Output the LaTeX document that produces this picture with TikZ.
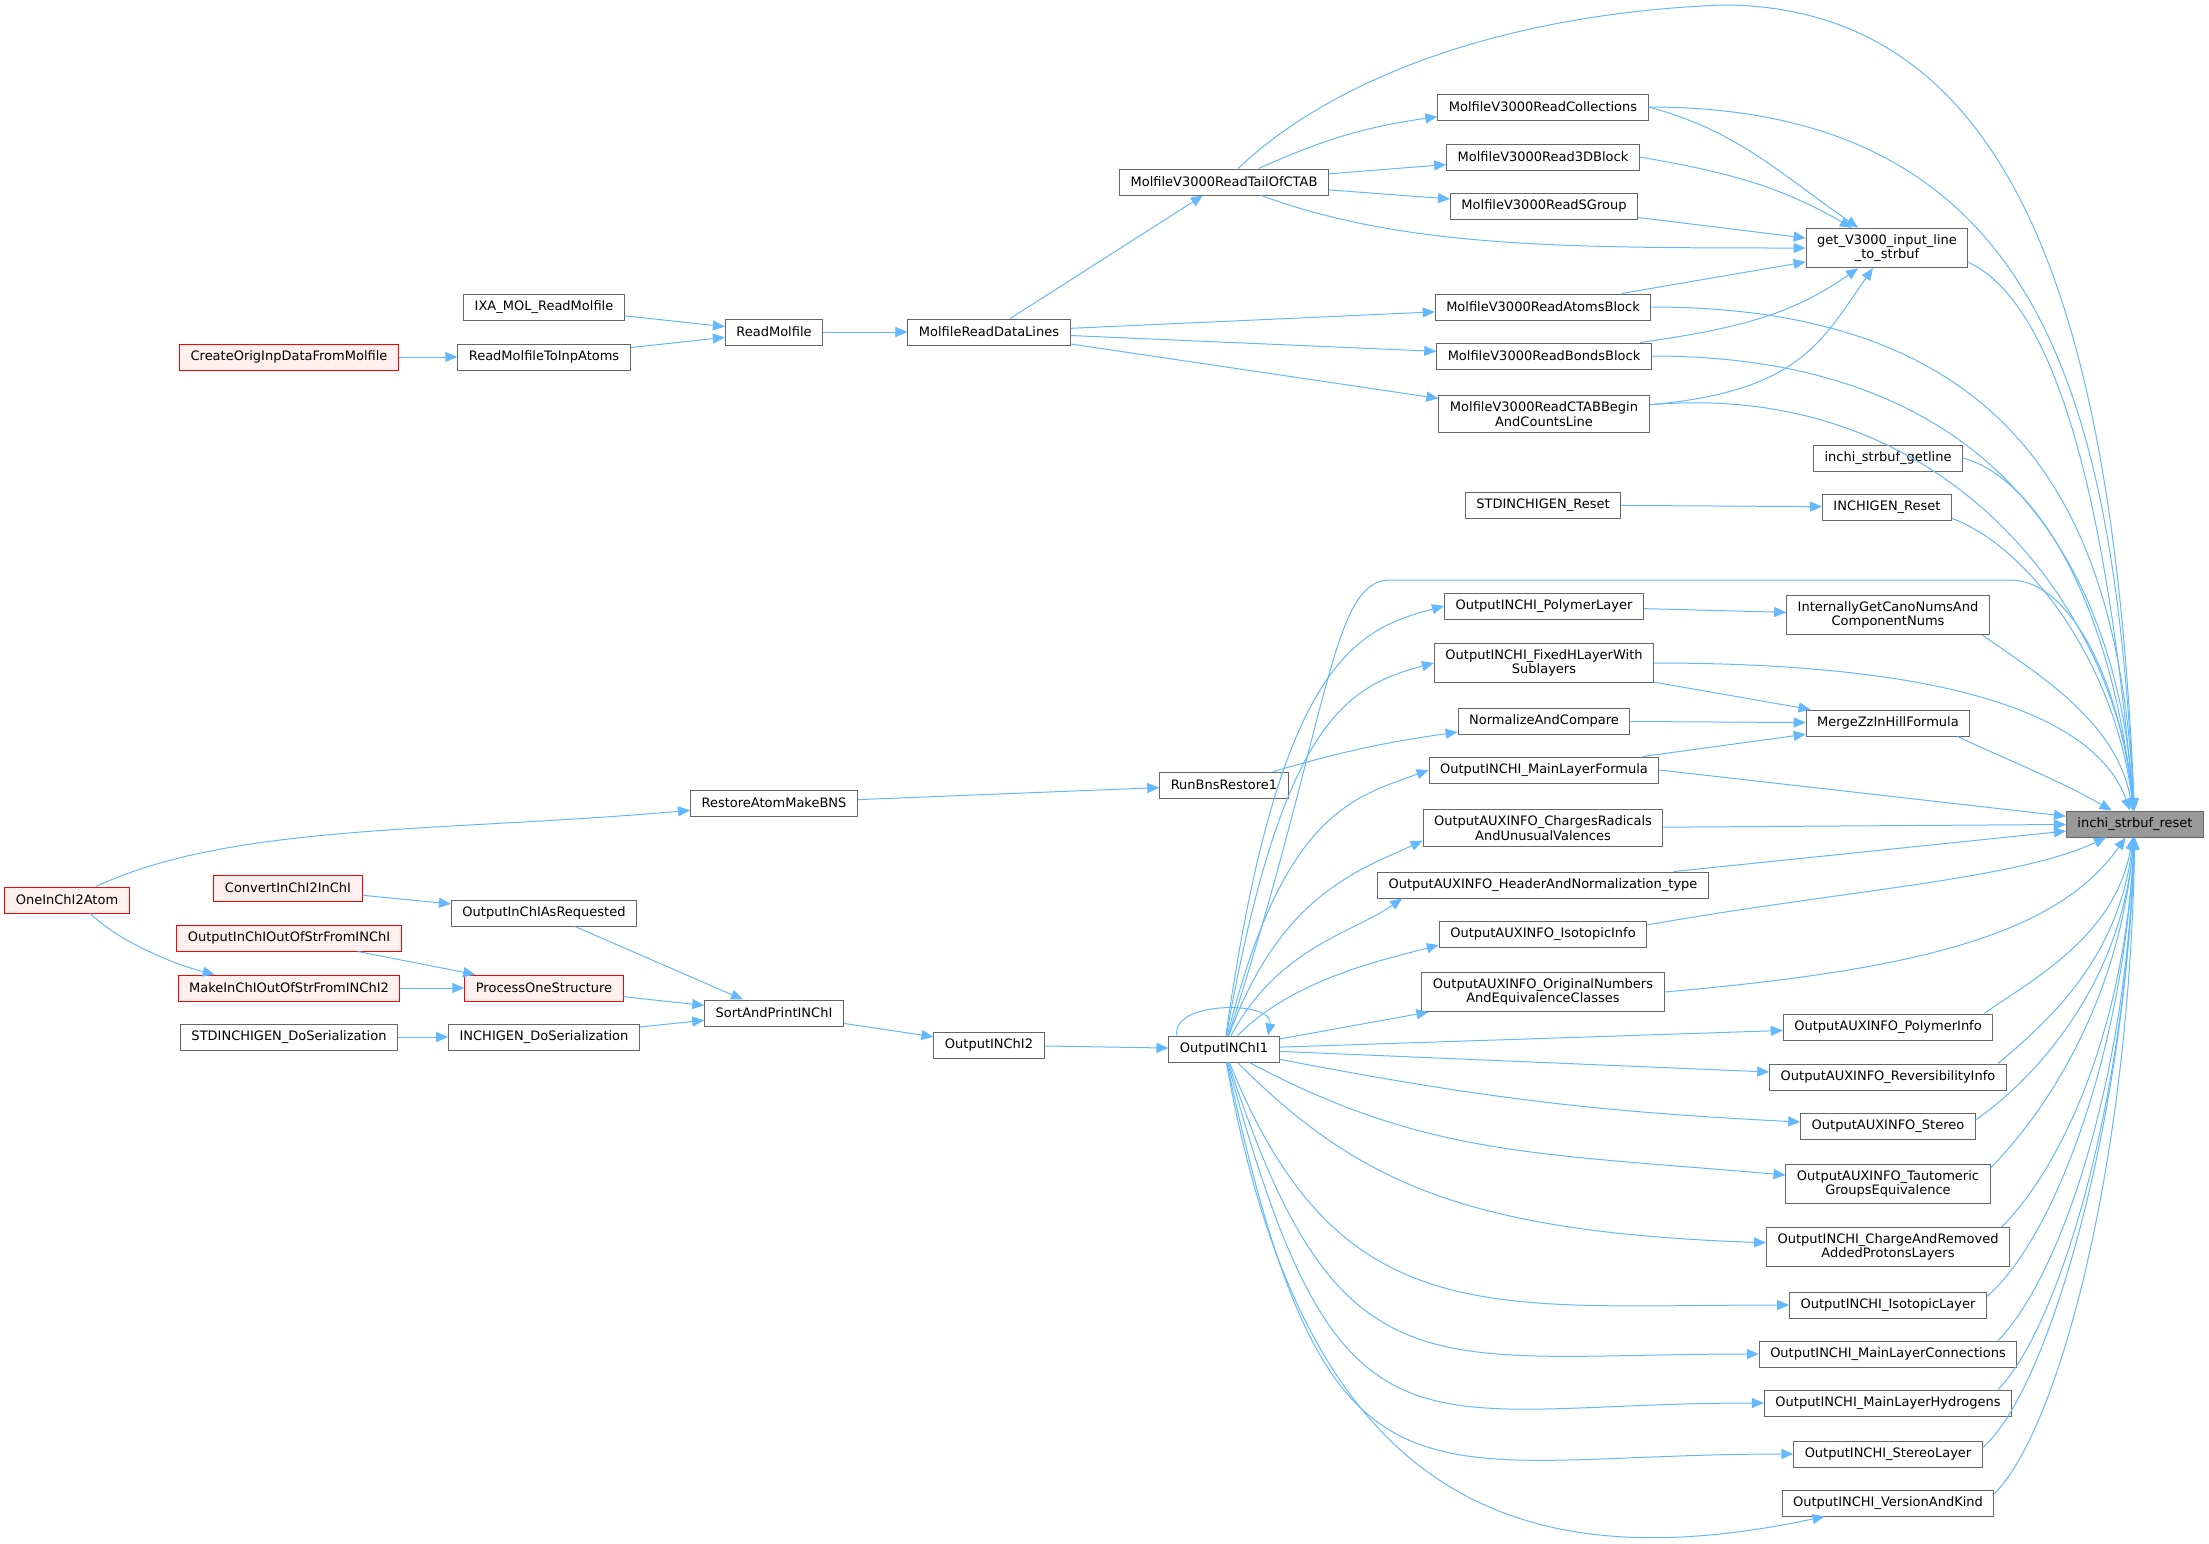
\documentclass[tikz,border=0pt]{standalone}
\usepackage{fontspec}
\setmainfont{DejaVu Sans}
\usetikzlibrary{arrows.meta}
\definecolor{callblue}{HTML}{63B8FF}
\definecolor{boxgray}{HTML}{666666}
\definecolor{redfill}{HTML}{FFF0F0}
\definecolor{hitgray}{HTML}{999999}

\begin{document}
\begin{tikzpicture}[x=1pt,y=1pt,
	fn/.style={draw=boxgray,line width=1pt,fill=white,font=\fontsize{13}{14.5}\selectfont,inner xsep=11pt,inner ysep=6pt,minimum height=26pt,align=center},
	redfn/.style={fn,draw=red,fill=redfill},
	hit/.style={fn,fill=hitgray},
	ln/.style={-{Triangle[length=12pt,width=10pt]},draw=callblue,line width=1pt}]
				\useasboundingbox (0,0) rectangle (2209,-1543);
				\node[redfn] (oia) at (67,-900) {OneInChI2Atom};
				\node[redfn] (coi) at (289,-357) {CreateOrigInpDataFromMolfile};
				\node[redfn] (cii) at (288,-888) {ConvertInChI2InChI};
				\node[redfn] (oios) at (289,-938) {OutputInChIOutOfStrFromINChI};
				\node[redfn] (mios) at (289,-988) {MakeInChIOutOfStrFromINChI2};
				\node[fn] (sds) at (289,-1037) {STDINCHIGEN\_DoSerialization};
				\node[fn] (ixa) at (544,-307) {IXA\_MOL\_ReadMolfile};
				\node[fn] (rmia) at (544,-357) {ReadMolfileToInpAtoms};
				\node[fn] (oiar) at (544,-913) {OutputInChIAsRequested};
				\node[redfn] (pos) at (544,-988) {ProcessOneStructure};
				\node[fn] (ids) at (544,-1037) {INCHIGEN\_DoSerialization};
				\node[fn] (rm) at (774,-332) {ReadMolfile};
				\node[fn] (ramb) at (774,-803) {RestoreAtomMakeBNS};
				\node[fn] (spi) at (774,-1013) {SortAndPrintINChI};
				\node[fn] (mrdl) at (989,-332) {MolfileReadDataLines};
				\node[fn] (o2) at (989,-1045) {OutputINChI2};
				\node[fn] (tail) at (1224,-182) {MolfileV3000ReadTailOfCTAB};
				\node[fn] (rbr) at (1224,-785) {RunBnsRestore1};
				\node[fn] (o1) at (1224,-1049) {OutputINChI1};
				\node[fn] (coll) at (1543,-107) {MolfileV3000ReadCollections};
				\node[fn] (b3d) at (1543,-157) {MolfileV3000Read3DBlock};
				\node[fn] (sgr) at (1544,-206) {MolfileV3000ReadSGroup};
				\node[fn] (atm) at (1543,-307) {MolfileV3000ReadAtomsBlock};
				\node[fn] (bnd) at (1544,-356) {MolfileV3000ReadBondsBlock};
				\node[fn] (ctab) at (1544,-414) {MolfileV3000ReadCTABBegin\\AndCountsLine};
				\node[fn] (stdr) at (1543,-505) {STDINCHIGEN\_Reset};
				\node[fn] (pl) at (1544,-606) {OutputINCHI\_PolymerLayer};
				\node[fn] (fxh) at (1544,-663) {OutputINCHI\_FixedHLayerWith\\Sublayers};
				\node[fn] (nac) at (1544,-721) {NormalizeAndCompare};
				\node[fn] (mlf) at (1544,-770) {OutputINCHI\_MainLayerFormula};
				\node[fn] (crv) at (1543,-828) {OutputAUXINFO\_ChargesRadicals\\AndUnusualValences};
				\node[fn] (hnt) at (1543,-885) {OutputAUXINFO\_HeaderAndNormalization\_type};
				\node[fn] (aii) at (1543,-934) {OutputAUXINFO\_IsotopicInfo};
				\node[fn] (one) at (1543,-992) {OutputAUXINFO\_OriginalNumbers\\AndEquivalenceClasses};
				\node[fn] (gin) at (1887,-248) {get\_V3000\_input\_line\\\_to\_strbuf};
				\node[fn] (gl) at (1888,-458) {inchi\_strbuf\_getline};
				\node[fn] (igr) at (1887,-507) {INCHIGEN\_Reset};
				\node[fn] (gcn) at (1888,-615) {InternallyGetCanoNumsAnd\\ComponentNums};
				\node[fn] (mzz) at (1888,-723) {MergeZzInHillFormula};
				\node[fn] (api) at (1888,-1027) {OutputAUXINFO\_PolymerInfo};
				\node[fn] (ari) at (1888,-1077) {OutputAUXINFO\_ReversibilityInfo};
				\node[fn] (ast) at (1888,-1126) {OutputAUXINFO\_Stereo};
				\node[fn] (atg) at (1888,-1184) {OutputAUXINFO\_Tautomeric\\GroupsEquivalence};
				\node[fn] (car) at (1888,-1247) {OutputINCHI\_ChargeAndRemoved\\AddedProtonsLayers};
				\node[fn] (iil) at (1888,-1305) {OutputINCHI\_IsotopicLayer};
				\node[fn] (mlc) at (1888,-1354) {OutputINCHI\_MainLayerConnections};
				\node[fn] (mlh) at (1888,-1403) {OutputINCHI\_MainLayerHydrogens};
				\node[fn] (isl) at (1888,-1454) {OutputINCHI\_StereoLayer};
				\node[fn] (ivk) at (1888,-1503) {OutputINCHI\_VersionAndKind};
				\node[hit] (isr) at (2135,-824) {inchi\_strbuf\_reset};
				\draw[ln] (coi) to (rmia);
				\draw[ln] (ixa) to (rm);
				\draw[ln] (rmia) to (rm);
				\draw[ln] (rm) to (mrdl);
				\draw[ln] (mrdl) to (tail);
				\draw[ln] (mrdl) to (atm);
				\draw[ln] (mrdl) to (bnd);
				\draw[ln] (mrdl) to (ctab);
				\draw[ln] (tail) to[bend left=8] (coll);
				\draw[ln] (tail) to (b3d);
				\draw[ln] (tail) to (sgr);
				\draw[ln] (tail) to[out=-20,in=180,out distance=150,in distance=250] (gin);
				\draw[ln] (tail) .. controls (1320,-90) and (1480,-15) .. (1722,-5) .. controls (2030,-5) and (2115,-350) .. (isr);
				\draw[ln] (coll.east) to[out=-15,in=145,out distance=90,in distance=100] (gin);
				\draw[ln] (b3d.east) to[out=-10,in=150,out distance=80,in distance=90] (gin);
				\draw[ln] (sgr) to (gin);
				\draw[ln] (atm) to (gin);
				\draw[ln] (bnd) to[out=8,in=-145,out distance=100,in distance=80] (gin);
				\draw[ln] (ctab.5) to[out=5,in=-125,out distance=150,in distance=90] (gin);
				\draw[ln] (gin.-10) to[out=-25,in=95,out distance=100,in distance=300] (isr);
				\draw[ln] (coll.east) to[out=0,in=93,out distance=400,in distance=400] (isr);
				\draw[ln] (atm.east) to[out=0,in=93,out distance=380,in distance=280] (isr);
				\draw[ln] (bnd.east) to[out=0,in=94,out distance=350,in distance=240] (isr);
				\draw[ln] (ctab.5) to[out=5,in=95,out distance=300,in distance=200] (isr);
				\draw[ln] (gl.east) to[out=-15,in=96,out distance=80,in distance=200] (isr);
				\draw[ln] (igr.-10) to[out=-20,in=97,out distance=80,in distance=150] (isr);
				\draw[ln] (stdr) to (igr);
				\draw[ln] (gcn.-12) to[out=-35,in=100,out distance=70,in distance=90] (isr);
				\draw[ln] (pl) to (gcn);
				\draw[ln] (fxh) to (mzz);
				\draw[ln] (fxh.east) to[out=0,in=110,out distance=300,in distance=100] (isr);
				\draw[ln] (nac) to (mzz);
				\draw[ln] (mlf) to (mzz);
				\draw[ln] (mzz.-11) to[out=-25,in=150,out distance=60,in distance=60] (isr);
				\draw[ln] (mlf.east) to (isr);
				\draw[ln] (crv) to (isr);
				\draw[ln] (hnt) to (isr);
				\draw[ln] (aii.5) to[out=10,in=-155,out distance=200,in distance=100] (isr);
				\draw[ln] (one.east) to[out=5,in=-125,out distance=250,in distance=120] (isr);
				\draw[ln] (api.8) to[out=35,in=-100,out distance=60,in distance=100] (isr);
				\draw[ln] (ari.7) to[out=40,in=-97,out distance=70,in distance=120] (isr);
				\draw[ln] (ast.4) to[out=35,in=-95,out distance=70,in distance=150] (isr);
				\draw[ln] (atg.9) to[out=45,in=-95,out distance=70,in distance=170] (isr);
				\draw[ln] (car.10) to[out=45,in=-93,out distance=80,in distance=200] (isr);
				\draw[ln] (iil.5) to[out=40,in=-93,out distance=80,in distance=230] (isr);
				\draw[ln] (mlc.7) to[out=45,in=-92,out distance=80,in distance=260] (isr);
				\draw[ln] (mlh.7) to[out=45,in=-92,out distance=80,in distance=280] (isr);
				\draw[ln] (isl.4) to[out=40,in=-92,out distance=80,in distance=300] (isr);
				\draw[ln] (ivk.5) to[out=45,in=-91,out distance=90,in distance=330] (isr);
				\draw[ln] (oia) to[out=25,in=185,out distance=150,in distance=250] (ramb);
				\draw[ln] (oia.-30) to[out=-45,in=166,out distance=40,in distance=40] ([xshift=37pt]mios.north west);
				\draw[ln] (cii) to (oiar);
				\draw[ln] (oiar) to (spi);
				\draw[ln] (oios) to (pos);
				\draw[ln] (mios) to (pos);
				\draw[ln] (pos) to (spi);
				\draw[ln] (sds) to (ids);
				\draw[ln] (ids) to (spi);
				\draw[ln] (spi) to (o2);
				\draw[ln] (o2) to (o1);
				\draw[ln] (ramb) to (rbr);
				\draw[ln] (rbr) to[bend left=4] (nac);
				\draw[ln] (o1.164) to[out=100,in=80] (o1.17);
				\draw[ln] (o1) .. controls (1330,-720) and (1330,-580) .. (1390,-580) -- (2010,-580) .. controls (2070,-580) and (2120,-680) .. (isr);
				\draw[ln] (o1) to[out=82,in=195,out distance=380,in distance=90] (pl.west);
				\draw[ln] (o1) to[out=80,in=195,out distance=320,in distance=90] (fxh.west);
				\draw[ln] (o1) to[out=76,in=200,out distance=230,in distance=80] (mlf.west);
				\draw[ln] (o1) to[out=70,in=205,out distance=150,in distance=70] (crv.186);
				\draw[ln] (o1) to[out=62,in=215,out distance=100,in distance=60] ([xshift=25pt]hnt.south west);
				\draw[ln] (o1) to[out=45,in=195,out distance=80,in distance=60] (aii.186);
				\draw[ln] (o1) to ([xshift=7pt]one.south west);
				\draw[ln] (o1) to (api);
				\draw[ln] (o1) to (ari);
				\draw[ln] (o1) to[bend right=4] (ast);
				\draw[ln] (o1) to[out=-28,in=175,out distance=200,in distance=250] (atg);
				\draw[ln] (o1) to[out=-45,in=178,out distance=170,in distance=300] (car);
				\draw[ln] (o1) to[out=-68,in=180,out distance=293,in distance=300] (iil);
				\draw[ln] (o1) to[out=-72,in=180,out distance=357,in distance=330] (mlc);
				\draw[ln] (o1) to[out=-75,in=180,out distance=436,in distance=350] (mlh);
				\draw[ln] (o1) to[out=-78,in=180,out distance=490,in distance=380] (isl);
				\draw[ln] (o1) to[out=-80,in=192,out distance=430,in distance=330] (ivk);
			\end{tikzpicture}
\end{document}
